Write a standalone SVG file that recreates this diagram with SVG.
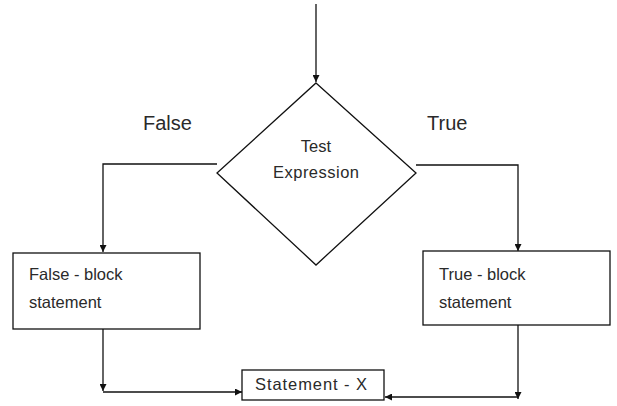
<svg xmlns="http://www.w3.org/2000/svg" width="617" height="406" viewBox="0 0 617 406">
<style>
.box{fill:#fff;stroke:#111;stroke-width:1.3}
.t{font-family:"Liberation Sans",Arial,sans-serif;fill:#2a2a2a}
.s{font-size:16.5px}
.c{fill:none;stroke:#111;stroke-width:1.3}
</style>
<defs>
<marker id="ah" viewBox="0 0 10 10" refX="10" refY="5" markerWidth="7" markerHeight="7" markerUnits="userSpaceOnUse" orient="auto">
<path d="M0,0 L10,5 L0,10 z" fill="#111"/>
</marker>
</defs>
<rect width="617" height="406" fill="#fff"/>
<g id="connectors">
<path class="c" d="M316,4 L316,82" marker-end="url(#ah)"/>
<path class="c" d="M217,164 L103,164 L103,252" marker-end="url(#ah)"/>
<path class="c" d="M416,165 L518,165 L518,251" marker-end="url(#ah)"/>
<path class="c" d="M103,329 L103,391" marker-end="url(#ah)"/>
<path class="c" d="M103,392 L242,392" marker-end="url(#ah)"/>
<path class="c" d="M518,325 L518,399" marker-end="url(#ah)"/>
<path class="c" d="M518,397 L385,397" marker-end="url(#ah)"/>
</g>
<g id="decision">
<path class="box" d="M316,83 L416,173 L316,265 L217,173 z"/>
<text class="t s" x="316" y="152" text-anchor="middle" font-size="15">Test</text>
<text class="t s" x="316" y="178" text-anchor="middle" textLength="86">Expression</text>
</g>
<g id="false-label"><text class="t" x="143" y="130" font-size="20">False</text></g>
<g id="true-label"><text class="t" x="427" y="130" font-size="20">True</text></g>
<g id="false-block">
<rect class="box" x="13" y="253" width="187" height="76"/>
<text class="t s" x="29" y="280">False - block</text>
<text class="t s" x="29" y="308">statement</text>
</g>
<g id="true-block">
<rect class="box" x="423" y="251" width="187" height="74"/>
<text class="t s" x="439" y="280">True - block</text>
<text class="t s" x="439" y="308">statement</text>
</g>
<g id="statement-x">
<rect class="box" x="242" y="370" width="142" height="30"/>
<text class="t s" x="311" y="390" text-anchor="middle" textLength="112">Statement - X</text>
</g>
</svg>
